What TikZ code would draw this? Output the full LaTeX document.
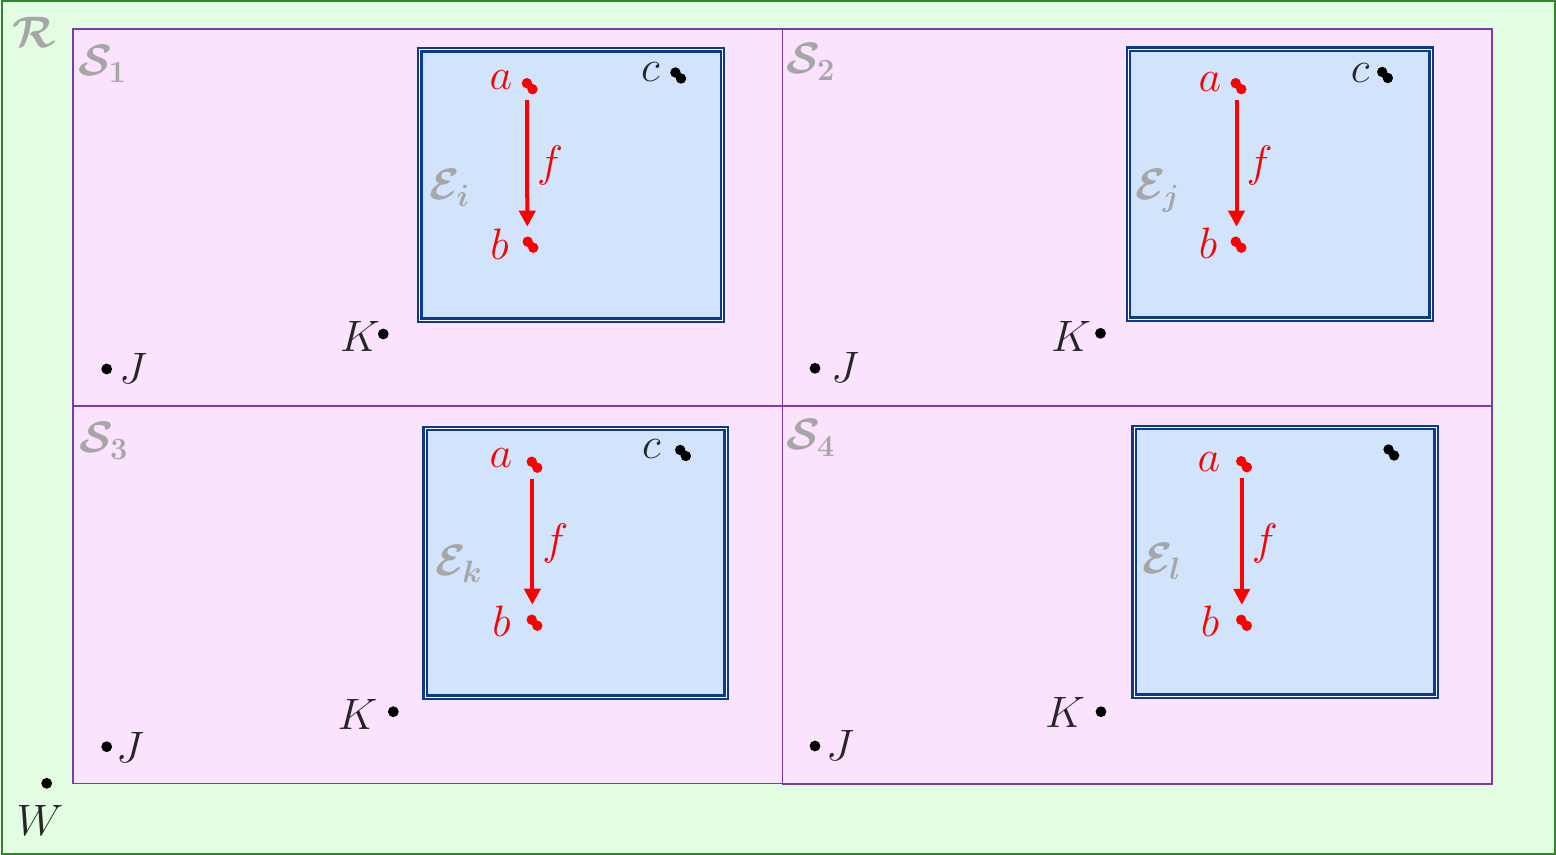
\documentclass[tikz,border=0pt]{standalone}
\usepackage{fix-cm}
\usetikzlibrary{arrows.meta}
\definecolor{rfill}{HTML}{E3FDE3}
\definecolor{rdraw}{HTML}{2A8A2A}
\definecolor{sfill}{HTML}{FBE3FD}
\definecolor{sdraw}{HTML}{7A3AB0}
\definecolor{efill}{HTML}{D2E4FB}
\definecolor{edraw}{HTML}{0E3A8C}
\definecolor{lgray}{HTML}{A6A6A6}
\definecolor{dtext}{HTML}{262626}
\definecolor{fred}{HTML}{FF0000}
\newcommand\twodots[4]{%
  \coordinate (#1) at (#2,#3);
  \fill[#4] (#2-2.8,#3-3) circle (2.6pt) (#2+2.8,#3+3) circle (2.6pt);}
\begin{document}
\begin{tikzpicture}[x=0.5pt,y=-0.5pt,
  outerbox/.style={draw=rdraw,fill=rfill,line width=1pt},
  region/.style={draw=sdraw,fill=sfill,line width=0.9pt},
  ebox/.style={draw=edraw,double=white,double distance=0.5pt,line width=1.2pt,fill=efill},
  sdot/.style={circle,fill=black,inner sep=0pt,minimum size=5.4pt},
  lab/.style={inner sep=0pt,text=dtext,font=\fontsize{22}{24}\selectfont},
  rlab/.style={inner sep=0pt,text=fred,font=\fontsize{22}{24}\selectfont},
  glab/.style={inner sep=0pt,text=lgray,font=\fontsize{22}{24}\selectfont\boldmath},
  farrow/.style={draw=fred,line width=2pt,-{Triangle[width=8pt,length=8pt]},shorten <=7pt,shorten >=9pt}]
\useasboundingbox (0,0) rectangle (1556,855);
% outer region R
\draw[outerbox] (1.5,1.5) rectangle (1554.5,853.5);
\node[glab] (R) at (34,32) {$\mathcal{R}$};
\node[sdot] (Wd) at (46.7,783.3) {};
\node[lab] (W) at (40,820.5) {$W$};
% regions
\draw[region] (73,29) rectangle (782.5,406);
\draw[region] (782.5,29) rectangle (1492,406);
\draw[region] (73,406) rectangle (782.5,783.5);
\draw[region] (782.5,406) rectangle (1492,784);
% ---------- S1 ----------
\node[glab] (S1) at (102.5,64) {$\mathcal{S}_1$};
\draw[ebox] (419.7,49.8) rectangle (722.5,320.2);
\node[glab] (E1) at (450,188) {$\mathcal{E}_i$};
\twodots{a1}{529.7}{86.2}{fred}
\twodots{b1}{530.5}{244.7}{fred}
\twodots{c1}{678.2}{75.5}{black}
\node[rlab] (la1) at (501,80) {$a$};
\node[rlab] (lb1) at (499.5,244) {$b$};
\node[lab] (lc1) at (650.5,72) {$c$};
\draw[farrow] ([xshift=-1.3pt]a1) -- ([xshift=-1.6pt]b1) node[midway,right=4pt,rlab] (f1) {$f$};
\node[sdot] (Kd1) at (383.3,334) {};
\node[lab] (K1) at (360,336.7) {$K$};
\node[sdot] (Jd1) at (106.7,369) {};
\node[lab] (J1) at (133,368) {$J$};
% ---------- S2 ----------
\node[glab] (S2) at (811,62) {$\mathcal{S}_2$};
\draw[ebox] (1128.5,49.2) rectangle (1431,319.2);
\node[glab] (E2) at (1158,191) {$\mathcal{E}_j$};
\twodots{a2}{1238.5}{86.2}{fred}
\twodots{b2}{1238.5}{244.7}{fred}
\twodots{c2}{1385}{75}{black}
\node[rlab] (la2) at (1210,82) {$a$};
\node[rlab] (lb2) at (1208,243.5) {$b$};
\node[lab] (lc2) at (1360,73) {$c$};
\draw[farrow] ([xshift=-1pt]a2) -- ([xshift=-1pt]b2) node[midway,right=4pt,rlab] (f2) {$f$};
\node[sdot] (Kd2) at (1100.5,333.3) {};
\node[lab] (K2) at (1071,336) {$K$};
\node[sdot] (Jd2) at (815,368.3) {};
\node[lab] (J2) at (845,367.5) {$J$};
% ---------- S3 ----------
\node[glab] (S3) at (104,441) {$\mathcal{S}_3$};
\draw[ebox] (425,428.5) rectangle (726,697);
\node[glab] (E3) at (459,564) {$\mathcal{E}_k$};
\twodots{a3}{534.5}{464.7}{fred}
\twodots{b3}{534.5}{622.7}{fred}
\twodots{c3}{683}{453}{black}
\node[rlab] (la3) at (501,458) {$a$};
\node[rlab] (lb3) at (501.5,621.5) {$b$};
\node[lab] (lc3) at (651.5,449) {$c$};
\draw[farrow] ([xshift=-1.1pt]a3) -- ([xshift=-1.1pt]b3) node[midway,right=4pt,rlab] (f3) {$f$};
\node[sdot] (Kd3) at (393.3,711.7) {};
\node[lab] (K3) at (357.5,714) {$K$};
\node[sdot] (Jd3) at (106.7,746.7) {};
\node[lab] (J3) at (130,747.5) {$J$};
% ---------- S4 ----------
\node[glab] (S4) at (811,438) {$\mathcal{S}_4$};
\draw[ebox] (1134,427.5) rectangle (1436,696);
\node[glab] (E4) at (1162,561.5) {$\mathcal{E}_l$};
\twodots{a4}{1244}{464.2}{fred}
\twodots{b4}{1244}{622.8}{fred}
\twodots{c4}{1391.3}{452.5}{black}
\node[rlab] (la4) at (1209,462.5) {$a$};
\node[rlab] (lb4) at (1210,621.5) {$b$};
\draw[farrow] ([xshift=-1.1pt]a4) -- ([xshift=-1.1pt]b4) node[midway,right=4pt,rlab] (f4) {$f$};
\node[sdot] (Kd4) at (1101,711.7) {};
\node[lab] (K4) at (1065,712) {$K$};
\node[sdot] (Jd4) at (815,746) {};
\node[lab] (J4) at (840,745) {$J$};
\end{tikzpicture}
\end{document}
